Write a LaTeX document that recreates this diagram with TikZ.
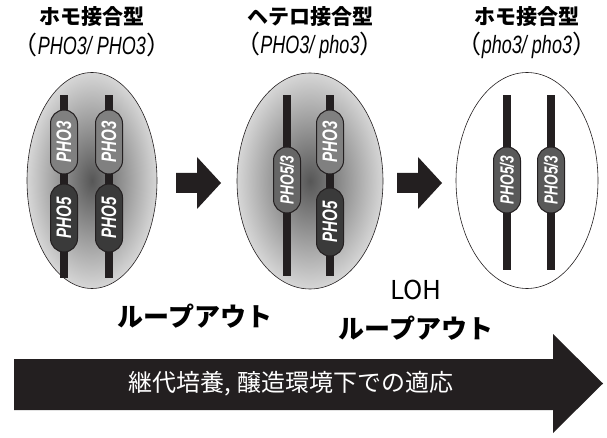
\documentclass[tikz,border=0pt]{standalone}
\usepackage{fontspec}
\usetikzlibrary{shapes.misc}
\newfontfamily\jp{Noto Sans CJK JP}
\newfontfamily\gene[FakeStretch=0.72,
  ItalicFont={Liberation Sans Italic},
  BoldFont={Liberation Sans Bold},
  BoldItalicFont={Liberation Sans Bold Italic}]{Liberation Sans}
\definecolor{ink}{HTML}{231F20}
\definecolor{allelethree}{HTML}{808080}
\definecolor{allelefive}{HTML}{3A3A3A}
\definecolor{allelemix}{HTML}{666666}
\begin{document}
\begin{tikzpicture}[x=1pt,y=-1pt,
  cell/.style={draw=ink, line width=0.6pt},
  cellshaded/.style={cell, shading=radial, inner color=black!66, outer color=black!16},
  chrom/.style={fill=ink},
  pill/.style={rounded rectangle, draw=ink, line width=1pt, minimum height=27pt,
    inner sep=0pt, rotate=90, text=white,
    font=\gene\bfseries\itshape\fontsize{21}{21}\selectfont},
  pthree/.style={pill, fill=allelethree, minimum width=64pt},
  pfive/.style={pill, fill=allelefive, minimum width=68pt},
  pmix/.style={pill, fill=allelemix, minimum width=66pt,
    font=\gene\bfseries\itshape\fontsize{19}{19}\selectfont},
  head/.style={font=\jp\bfseries\fontsize{21}{21}\selectfont},
  geno/.style={font=\fontsize{25}{25}\selectfont},
  loop/.style={font=\jp\bfseries\fontsize{26}{26}\selectfont},
  stepbar/.style={fill=ink}]
\useasboundingbox (0,0) rectangle (607,438);

% ---- headings ----
\node[head] (h1) at (92,17) {ホモ接合型};
\node[head] (h2) at (310,17) {ヘテロ接合型};
\node[head] (h3) at (527,17) {ホモ接合型};
\node[geno] (g1) at (92,45) {{\jp （}{\gene\itshape PHO3/ PHO3}{\jp ）}};
\node[geno] (g2) at (310,45) {{\jp （}{\gene\itshape PHO3/ pho3}{\jp ）}};
\node[geno] (g3) at (527,45) {{\jp （}{\gene\itshape pho3/ pho3}{\jp ）}};

% ---- cell 1: PHO3/PHO3 ----
\draw[cellshaded] (92,180.5) ellipse [x radius=65pt, y radius=108pt];
\fill[chrom] (60,95) rectangle (68,278);
\fill[chrom] (105,95) rectangle (113,278);
\node[pthree] (a1) at (64,142) {PHO3};
\node[pfive]  (a2) at (64,218) {PHO5};
\node[pthree] (a3) at (109,142) {PHO3};
\node[pfive]  (a4) at (109,218) {PHO5};

% ---- arrow 1 ----
\fill[stepbar] (176,173) -- (197,173) -- (197,157) -- (221,183) -- (197,209)
  -- (197,193) -- (176,193) -- cycle;

% ---- cell 2: PHO3/pho3 ----
\draw[cellshaded] (310,181) ellipse [x radius=73pt, y radius=108pt];
\fill[chrom] (283,95) rectangle (291,276);
\fill[chrom] (326,95) rectangle (334,276);
\node[pmix]   (b1) at (287,180) {PHO5/3};
\node[pthree] (b2) at (330,142) {PHO3};
\node[pfive]  (b3) at (330,222) {PHO5};

% ---- arrow 2 ----
\fill[stepbar] (397,173) -- (418,173) -- (418,157) -- (442,183) -- (418,209)
  -- (418,193) -- (397,193) -- cycle;

% ---- cell 3: pho3/pho3 ----
\draw[cell, fill=white] (527,180.5) ellipse [x radius=71pt, y radius=108pt];
\fill[chrom] (503,95) rectangle (511,270);
\fill[chrom] (547,95) rectangle (555,270);
\node[pmix, fill=black!65] (c1) at (507,180) {PHO5/3};
\node[pmix, fill=black!65] (c2) at (551,180) {PHO5/3};

% ---- event labels ----
\node[loop] (l1) at (195,316) {ループアウト};
\node[font=\jp\fontsize{26}{26}\selectfont] (l2) at (416,290) {LOH};
\node[loop] (l3) at (416,328) {ループアウト};

% ---- time arrow ----
\fill[ink] (14,359) -- (553,359) -- (553,334) -- (603,383.5) -- (553,433)
  -- (553,410) -- (14,410) -- cycle;
\node[text=white, font=\jp\fontsize{24}{24}\selectfont] (t) at (291,384)
  {継代培養, 醸造環境下での適応};
\end{tikzpicture}
\end{document}
